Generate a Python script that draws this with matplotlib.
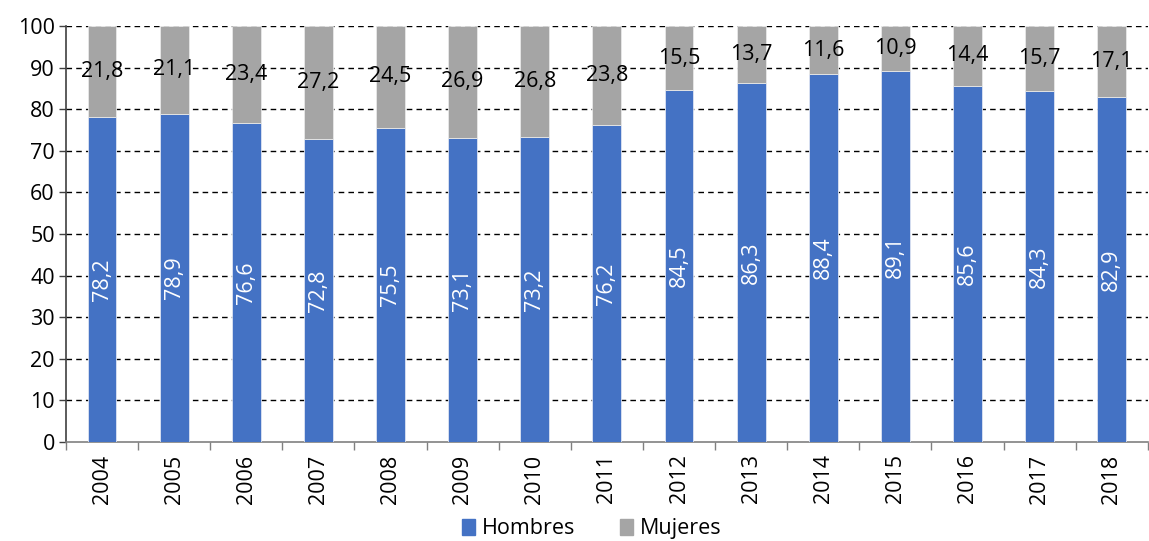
import matplotlib
matplotlib.use("Agg")
import matplotlib.pyplot as plt
import numpy as np

years = ["2004", "2005", "2006", "2007", "2008", "2009", "2010", "2011",
         "2012", "2013", "2014", "2015", "2016", "2017", "2018"]
hombres = [78.2, 78.9, 76.6, 72.8, 75.5, 73.1, 73.2, 76.2, 84.5, 86.3, 88.4, 89.1, 85.6, 84.3, 82.9]
mujeres = [21.8, 21.1, 23.4, 27.2, 24.5, 26.9, 26.8, 23.8, 15.5, 13.7, 11.6, 10.9, 14.4, 15.7, 17.1]
yticks = [0, 10, 20, 30, 40, 50, 60, 70, 80, 90, 100]

plt.rcParams['font.family'] = ['Open Sans', 'DejaVu Sans']

BLUE = "#4472C4"
GREY = "#A5A5A5"
FS = 15.5

fig = plt.figure(figsize=(11.49, 5.41), dpi=100)
ax = fig.add_axes([0.0574, 0.183, 0.9416, 0.769])

x = np.arange(len(years))
w = 0.4
ax.bar(x, hombres, width=w, color=BLUE, edgecolor="#DDE4F2", linewidth=0.6, label="Hombres", zorder=3)
ax.bar(x, mujeres, width=w, bottom=hombres, color=GREY, edgecolor="#E8E8E8", linewidth=0.6, label="Mujeres", zorder=3)

def fmt(v):
    return f"{v:.1f}".replace(".", ",")

for xi, h, m in zip(x, hombres, mujeres):
    ax.text(xi, h / 2, fmt(h), rotation=90, ha="center", va="center",
            color="white", fontsize=FS, zorder=4)
    ax.text(xi, h + m / 2, fmt(m), ha="center", va="center",
            color="black", fontsize=FS, zorder=4)

ax.set_xlim(-0.5, len(years) - 0.5)
ax.set_ylim(0, 100)
ax.set_yticks(yticks)
ax.set_yticklabels([str(t) for t in yticks], fontsize=FS)
ax.tick_params(axis="y", length=5, width=1, color="#404040", pad=3)

ax.set_xticks(x)
ax.set_xticklabels(years, rotation=90, fontsize=FS)
ax.tick_params(axis="x", length=0, pad=9)
ax.set_xticks(np.arange(-0.5, len(years), 1.0), minor=True)
ax.tick_params(axis="x", which="minor", length=6, width=1, color="#808080")

for yv in yticks[1:]:
    ax.axhline(yv, color="black", linestyle=(0, (4, 3)), linewidth=1.0, zorder=1)

for s in ["top", "right"]:
    ax.spines[s].set_visible(False)
ax.spines["left"].set_color("#404040")
ax.spines["left"].set_linewidth(1.2)
ax.spines["bottom"].set_color("#808080")
ax.spines["bottom"].set_linewidth(1.2)

handles = [plt.Rectangle((0, 0), 1, 1, color=BLUE), plt.Rectangle((0, 0), 1, 1, color=GREY)]
fig.legend(handles, ["Hombres", "Mujeres"], loc="lower center", bbox_to_anchor=(0.515, -0.033),
           ncol=2, frameon=False, fontsize=FS, handlelength=0.6, handleheight=0.8,
           handletextpad=0.3, columnspacing=2.1)

fig.savefig("out.png", dpi=100)
